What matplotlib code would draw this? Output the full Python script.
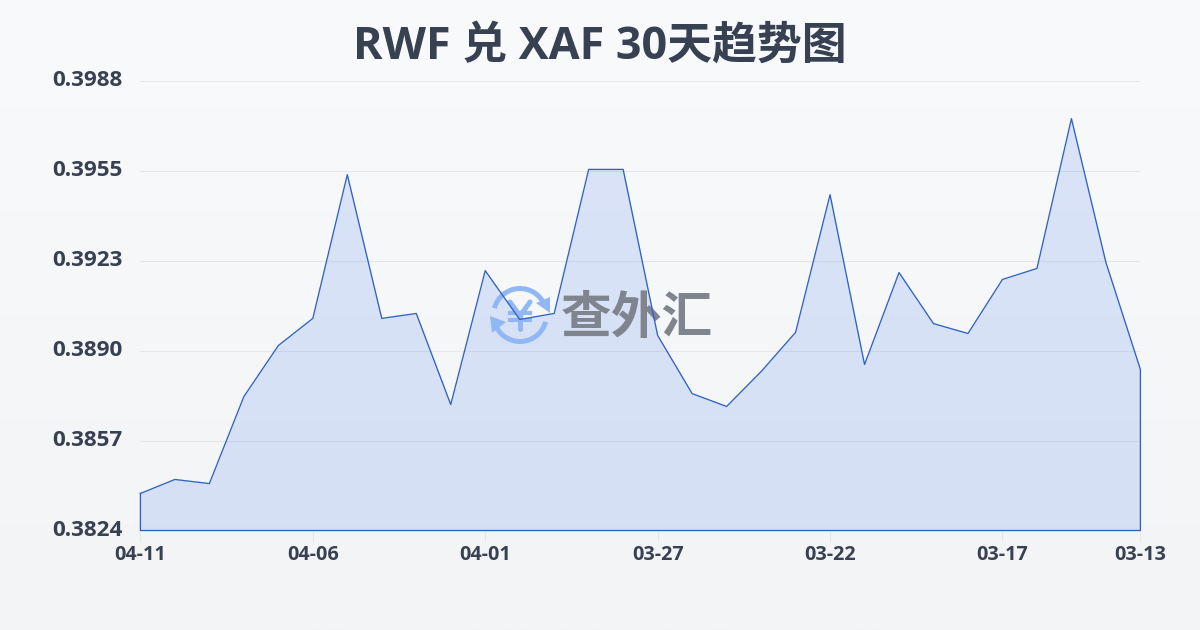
import numpy as np
import matplotlib
matplotlib.use("Agg")
import matplotlib.pyplot as plt
from matplotlib.patches import Arc, Polygon
from matplotlib.transforms import ScaledTranslation

plt.rcParams['font.family'] = ['Open Sans', 'Noto Sans CJK SC', 'DejaVu Sans']

title = "RWF 兑 XAF 30天趋势图"
dates = ["04-11", "04-10", "04-09", "04-08", "04-07", "04-06", "04-05", "04-04", "04-03", "04-02",
         "04-01", "03-31", "03-30", "03-29", "03-28", "03-27", "03-26", "03-25", "03-24", "03-23",
         "03-22", "03-21", "03-20", "03-19", "03-18", "03-17", "03-16", "03-15", "03-14", "03-13"]
rates = [0.38375, 0.38426, 0.38411, 0.38728, 0.38914, 0.39013, 0.39537, 0.39013, 0.39031, 0.38699,
         0.39187, 0.39009, 0.39031, 0.39556, 0.39556, 0.38951, 0.38739, 0.38692, 0.38819, 0.38962,
         0.39464, 0.38845, 0.39180, 0.38994, 0.38958, 0.39155, 0.39195, 0.39741, 0.39217, 0.38827]
y_ticks = [0.3824, 0.38568, 0.38896, 0.39224, 0.39552, 0.3988]
y_labels = ["0.3824", "0.3857", "0.3890", "0.3923", "0.3955", "0.3988"]
x_tick_idx = [0, 5, 10, 15, 20, 25, 29]

W, H = 1200, 630
dark = "#374151"
fig = plt.figure(figsize=(W / 100, H / 100), dpi=100)
rect = [140.4 / W, 1 - 530.5 / H, 1000 / W, 450 / H]

# background gradient
bg = fig.add_axes([0, 0, 1, 1], zorder=0)
top = np.array([0xf9, 0xfa, 0xfc]) / 255
bot = np.array([0xf3, 0xf4, 0xf6]) / 255
grad = np.linspace(0, 1, 256)[:, None, None] * (bot - top) + top
bg.imshow(grad, aspect="auto", extent=[0, 1, 0, 1])
bg.axis("off")

ax = fig.add_axes(rect, zorder=1)
ax.patch.set_alpha(0)
x = np.arange(len(rates))
ax.fill_between(x, y_ticks[0], rates, color="#2563eb", alpha=0.14, lw=0, zorder=2)
ax.set_xlim(0, len(rates) - 1)
ax.set_ylim(y_ticks[0], y_ticks[-1])
ax.set_yticks(y_ticks)
ax.set_yticklabels(y_labels, fontsize=16.2, fontweight="bold", color=dark)
ax.set_xticks(x_tick_idx)
ax.set_xticklabels([dates[i] for i in x_tick_idx], fontsize=14.2, fontweight="bold", color=dark)
ax.tick_params(axis="y", length=0, pad=13)
ax.tick_params(axis="x", length=8, width=0.8, color="#e5e7eb", pad=2.5)
ax.grid(axis="y", color="#e5e7eb", lw=0.8, zorder=1)
ax.set_axisbelow(True)
for s in ax.spines.values():
    s.set_visible(False)
# y labels sit a little above their grid lines
up = ScaledTranslation(0, 2 / 72, fig.dpi_scale_trans)
for lab in ax.get_yticklabels():
    lab.set_transform(lab.get_transform() + up)

fig.text(600 / W, 1 - 47 / H, title, ha="center", va="center", fontsize=32.3,
         fontweight="bold", color=dark)

# watermark, drawn in pixel coordinates
ov = fig.add_axes([0, 0, 1, 1], zorder=2)
ov.set_xlim(0, W)
ov.set_ylim(H, 0)
ov.axis("off")
blue = "#8fb8f5"
cx, cy = 520, 315
ov.add_patch(Arc((cx, cy), 53, 53, theta1=195, theta2=340, color=blue, lw=3.6))
ov.add_patch(Arc((cx, cy), 53, 53, theta1=15, theta2=160, color=blue, lw=3.6))
ov.add_patch(Polygon([(550, 297), (536, 303), (550, 313)], color=blue, lw=0))
ov.add_patch(Polygon([(490, 316), (506, 322), (492, 333)], color=blue, lw=0))
ov.plot([510, cx, 530], [302, 316, 302], color=blue, lw=3.6, solid_capstyle="round")
ov.plot([cx, cx], [316, 329], color=blue, lw=3.6, solid_capstyle="round")
ov.plot([510, 530], [313, 313], color=blue, lw=3)
ov.plot([510, 530], [320, 320], color=blue, lw=3)
ov.text(636.5, 320, "查外汇", ha="center", va="center", fontsize=36.5, fontweight="bold",
        color="#7f848e")

# outline of the area goes over the watermark
line_ax = fig.add_axes(rect, zorder=3)
line_ax.axis("off")
line_ax.set_xlim(0, len(rates) - 1)
line_ax.set_ylim(y_ticks[0], y_ticks[-1])
line_ax.plot(list(x) + [x[-1], 0, 0], rates + [y_ticks[0], y_ticks[0], rates[0]],
             color="#2f62c4", lw=0.95, clip_on=False)

fig.savefig("out.png", dpi=100)
